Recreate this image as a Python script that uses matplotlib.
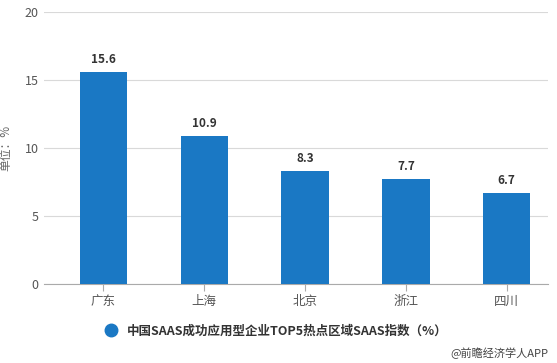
import matplotlib
matplotlib.use("Agg")
import matplotlib.pyplot as plt
from matplotlib.lines import Line2D

plt.rcParams['font.family'] = ['Noto Sans CJK SC', 'DejaVu Sans']

categories = ["广东", "上海", "北京", "浙江", "四川"]
values = [15.6, 10.9, 8.3, 7.7, 6.7]
yticks = [0, 5, 10, 15, 20]
legend_label = "中国SAAS成功应用型企业TOP5热点区域SAAS指数（%）"
bar_color = "#1a78c4"

fig = plt.figure(figsize=(5.57, 3.63), dpi=100)
ax = fig.add_axes([0.079, 0.218, 0.905, 0.749])

x = list(range(len(categories)))
ax.bar(x, values, width=0.47, color=bar_color, zorder=3)
for xi, v in zip(x, values):
    ax.text(xi, v + 0.45, f"{v}", ha="center", va="bottom", fontsize=8.5,
            fontweight="bold", color="#333333")

ax.set_xlim(-0.59, 4.41)
ax.set_ylim(0, 20)
ax.set_yticks(yticks)
ax.set_xticks(x)
ax.set_xticklabels(categories)
ax.grid(axis="y", color="#d9d9d9", linewidth=0.8, zorder=0)
for s in ["top", "right", "left"]:
    ax.spines[s].set_visible(False)
ax.spines["bottom"].set_color("#aaaaaa")
ax.tick_params(axis="y", length=0, labelsize=9, labelcolor="#555555", pad=4)
ax.tick_params(axis="x", length=5, color="#aaaaaa", labelsize=9, labelcolor="#555555", pad=3)
ax.set_ylabel("单位：%", fontsize=8.5, color="#666666")
ax.yaxis.set_label_coords(-0.062, 0.5)

handle = Line2D([], [], marker="o", linestyle="none", markersize=9,
                markerfacecolor=bar_color, markeredgecolor=bar_color)
fig.legend([handle], [legend_label], loc="center", bbox_to_anchor=(0.49, 0.088),
           frameon=False, handletextpad=0.3,
           prop={'family': ['Noto Sans CJK SC', 'DejaVu Sans'], 'size': 9, 'weight': 'bold'},
           labelcolor="#333333")
fig.text(0.985, 0.012, "@前瞻经济学人APP", ha="right", va="bottom", fontsize=8, color="#444444")

fig.savefig("out.png", dpi=100)
